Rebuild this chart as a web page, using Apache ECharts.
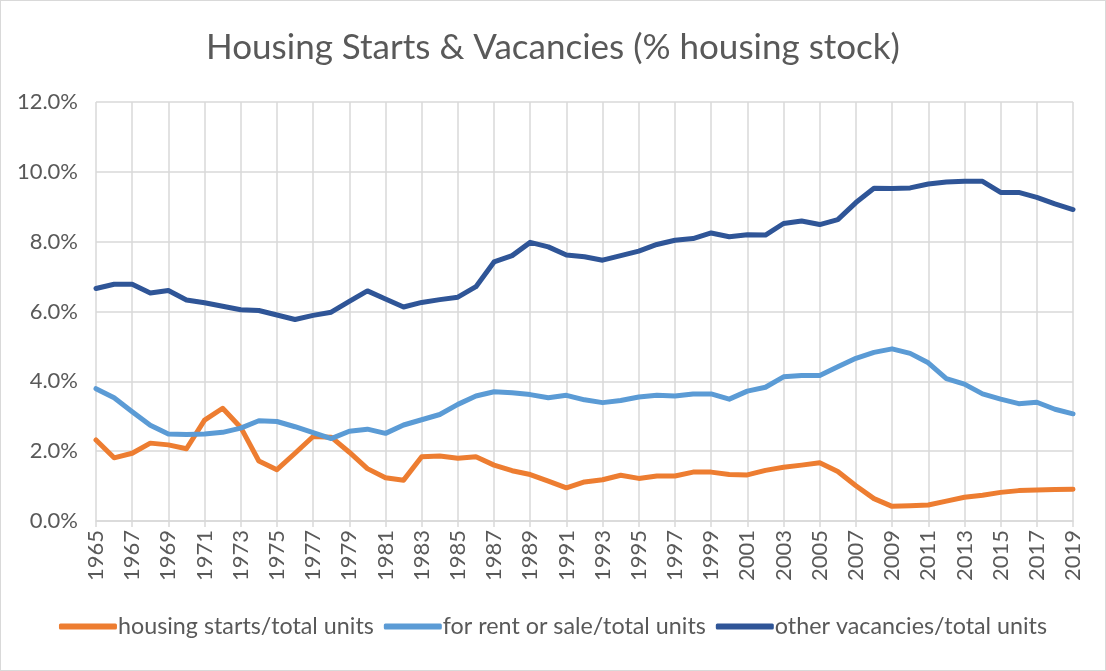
<!DOCTYPE html>
<html>
<head>
<meta charset="utf-8">
<script src="https://cdn.jsdelivr.net/npm/echarts@6/dist/echarts.min.js"></script>
<style>
  html, body { margin: 0; padding: 0; background: #fff; }
  #chart { width: 1106px; height: 671px; box-sizing: border-box; border: 1px solid #d9d9d9; }
</style>
</head>
<body>
<div id="chart"></div>
<script>
const years = [];
for (let y = 1965; y <= 2019; y++) years.push(String(y));

const housingStarts = [2.32, 1.81, 1.94, 2.23, 2.18, 2.07, 2.89, 3.23, 2.68, 1.72,
  1.47, 1.94, 2.42, 2.40, 1.97, 1.50, 1.24, 1.17, 1.84, 1.86,
  1.80, 1.84, 1.60, 1.44, 1.33, 1.14, 0.95, 1.12, 1.18, 1.31,
  1.22, 1.29, 1.29, 1.40, 1.40, 1.33, 1.32, 1.45, 1.54, 1.60,
  1.67, 1.42, 1.01, 0.64, 0.42, 0.44, 0.46, 0.57, 0.68, 0.74,
  0.82, 0.87, 0.89, 0.90, 0.91];

const rentOrSale = [3.79, 3.53, 3.13, 2.74, 2.49, 2.48, 2.49, 2.54, 2.66, 2.87,
  2.85, 2.70, 2.53, 2.36, 2.57, 2.63, 2.51, 2.75, 2.90, 3.05,
  3.34, 3.58, 3.70, 3.67, 3.62, 3.53, 3.60, 3.47, 3.39, 3.45,
  3.55, 3.60, 3.58, 3.64, 3.64, 3.49, 3.72, 3.83, 4.13, 4.17,
  4.17, 4.42, 4.66, 4.83, 4.93, 4.80, 4.53, 4.08, 3.92, 3.64,
  3.49, 3.36, 3.40, 3.20, 3.07];

const otherVacancies = [6.66, 6.78, 6.78, 6.53, 6.60, 6.33, 6.25, 6.15, 6.05, 6.03,
  5.90, 5.77, 5.89, 5.98, 6.29, 6.59, 6.36, 6.13, 6.26, 6.34,
  6.41, 6.71, 7.42, 7.60, 7.98, 7.85, 7.62, 7.57, 7.47, 7.60,
  7.73, 7.92, 8.04, 8.09, 8.25, 8.14, 8.20, 8.19, 8.52, 8.59,
  8.49, 8.63, 9.12, 9.53, 9.52, 9.54, 9.65, 9.71, 9.73, 9.73,
  9.41, 9.41, 9.27, 9.08, 8.92];

const seriesNames = ['housing starts/total units', 'for rent or sale/total units', 'other vacancies/total units'];
const colors = ['#ED7D31', '#5B9BD5', '#2F5597'];

const FONT = 'Lato, "Open Sans", sans-serif';
const TXT = '#595959';
const GRID = '#d9d9d9';

const chart = echarts.init(document.getElementById('chart'));
function mk(name, data, color) {
  return {
    name: name, type: 'line', data: data, symbol: 'none',
    lineStyle: { width: 5, color: color, cap: 'round', join: 'round' },
    itemStyle: { color: color }
  };
}
chart.setOption({
  animation: false,
  color: colors,
  title: {
    text: 'Housing Starts & Vacancies (% housing stock)',
    left: 'center', top: 24,
    textStyle: { fontFamily: FONT, fontSize: 35, fontWeight: 'normal', color: TXT }
  },
  grid: { left: 95, right: 32, top: 101, bottom: 149, containLabel: false },
  legend: {
    bottom: 27, left: 'center',
    itemWidth: 58, itemHeight: 6, itemGap: 10,
    icon: 'roundRect',
    textStyle: { fontFamily: FONT, fontSize: 23.3, color: TXT, padding: [0, 0, 0, -4] },
    data: seriesNames
  },
  xAxis: {
    type: 'category', data: years, boundaryGap: false,
    axisLine: { lineStyle: { color: GRID, width: 1.5 } },
    axisTick: { show: true, interval: 1, length: 6, lineStyle: { color: GRID, width: 1.5 } },
    axisLabel: { interval: 1, rotate: 90, margin: 9, fontFamily: FONT, fontSize: 22, color: TXT },
    splitLine: { show: true, interval: 1, lineStyle: { color: GRID, width: 1.5 } }
  },
  yAxis: {
    type: 'value', min: 0, max: 12, interval: 2,
    axisLine: { show: false }, axisTick: { show: false },
    axisLabel: { formatter: v => v.toFixed(1) + '%', margin: 18, fontFamily: FONT, fontSize: 22, color: TXT },
    splitLine: { lineStyle: { color: GRID, width: 1.5 } }
  },
  series: [
    mk(seriesNames[0], housingStarts, colors[0]),
    mk(seriesNames[1], rentOrSale, colors[1]),
    mk(seriesNames[2], otherVacancies, colors[2])
  ]
});
</script>
</body>
</html>
